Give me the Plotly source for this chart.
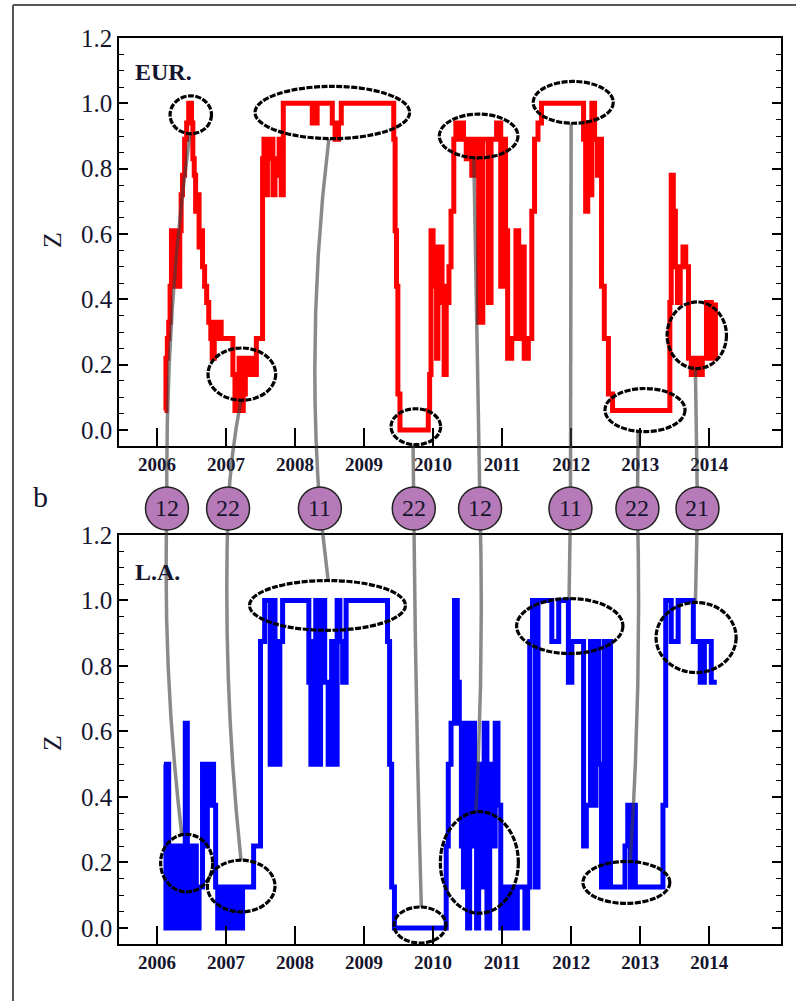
import math
import plotly.graph_objects as go

# ---------------- data ----------------
eur_t = [2006.11, 2006.13, 2006.15, 2006.17, 2006.19, 2006.21, 2006.28, 2006.33, 2006.35, 2006.37,
         2006.40, 2006.43, 2006.46, 2006.50, 2006.52, 2006.54, 2006.56, 2006.59, 2006.61, 2006.64,
         2006.66, 2006.69, 2006.72, 2006.75, 2006.78, 2006.80, 2006.83, 2006.86, 2006.90, 2006.93,
         2007.10, 2007.13, 2007.16, 2007.19, 2007.22, 2007.25, 2007.28, 2007.32, 2007.36, 2007.40,
         2007.44, 2007.53, 2007.55, 2007.57, 2007.60, 2007.63, 2007.66, 2007.68, 2007.71, 2007.74,
         2007.77, 2007.80, 2007.83, 2008.25, 2008.32, 2008.54, 2008.58, 2008.63, 2008.67, 2009.43,
         2009.45, 2009.47, 2009.49, 2009.52, 2009.93, 2009.95, 2009.97, 2010.00, 2010.03, 2010.05,
         2010.07, 2010.10, 2010.13, 2010.16, 2010.19, 2010.23, 2010.26, 2010.30, 2010.33, 2010.37,
         2010.41, 2010.44, 2010.48, 2010.52, 2010.56, 2010.60, 2010.66, 2010.72, 2010.80, 2010.84,
         2010.92, 2010.98, 2011.01, 2011.05, 2011.08, 2011.14, 2011.20, 2011.24, 2011.28, 2011.32,
         2011.38, 2011.43, 2011.47, 2011.52, 2011.57, 2012.18, 2012.21, 2012.24, 2012.27, 2012.30,
         2012.34, 2012.38, 2012.41, 2012.44, 2012.48, 2012.54, 2012.60, 2013.43, 2013.45, 2013.48,
         2013.51, 2013.54, 2013.58, 2013.62, 2013.66, 2013.70, 2013.74, 2013.80, 2013.84, 2013.90,
         2013.96, 2014.03, 2014.09]
eur_z = [0.06, 0.22, 0.28, 0.33, 0.44, 0.61, 0.44, 0.61, 0.72, 0.78,
         0.89, 0.94, 1.00, 0.94, 0.83, 0.78, 0.67, 0.72, 0.56, 0.61,
         0.50, 0.44, 0.39, 0.33, 0.28, 0.22, 0.33, 0.28, 0.33, 0.28,
         0.17, 0.06, 0.17, 0.22, 0.06, 0.11, 0.22, 0.17, 0.22, 0.17,
         0.28, 0.83, 0.89, 0.72, 0.89, 0.83, 0.89, 0.72, 0.83, 0.78,
         0.89, 0.72, 1.00, 0.94, 1.00, 0.94, 0.89, 0.94, 1.00, 0.89,
         0.61, 0.44, 0.11, 0.00, 0.06, 0.17, 0.61, 0.56, 0.44, 0.22,
         0.39, 0.56, 0.44, 0.17, 0.39, 0.50, 0.67, 0.89, 0.94, 0.89,
         0.94, 0.89, 0.83, 0.89, 0.78, 0.89, 0.33, 0.89, 0.39, 0.89,
         0.94, 0.44, 0.89, 0.61, 0.22, 0.28, 0.61, 0.28, 0.56, 0.22,
         0.28, 0.67, 0.89, 0.94, 1.00, 0.89, 0.67, 0.94, 0.72, 1.00,
         0.89, 0.78, 0.89, 0.44, 0.28, 0.11, 0.06, 0.39, 0.78, 0.67,
         0.50, 0.39, 0.50, 0.56, 0.50, 0.22, 0.17, 0.22, 0.17, 0.22,
         0.39, 0.22, 0.39]

la_t = [2006.10, 2006.13, 2006.15, 2006.17, 2006.21, 2006.25, 2006.29, 2006.33, 2006.37, 2006.41,
        2006.44, 2006.47, 2006.50, 2006.53, 2006.57, 2006.61, 2006.66, 2006.70, 2006.73, 2006.76,
        2006.79, 2006.82, 2006.85, 2006.88, 2006.92, 2006.96, 2007.00, 2007.04, 2007.08, 2007.12,
        2007.16, 2007.20, 2007.24, 2007.40, 2007.50, 2007.56, 2007.64, 2007.68, 2007.71, 2007.75,
        2007.78, 2007.82, 2008.20, 2008.23, 2008.27, 2008.30, 2008.33, 2008.37, 2008.43, 2008.48,
        2008.53, 2008.57, 2008.61, 2008.65, 2008.69, 2008.74, 2009.34, 2009.37, 2009.40, 2009.44,
        2010.19, 2010.22, 2010.26, 2010.31, 2010.35, 2010.38, 2010.41, 2010.44, 2010.47, 2010.50,
        2010.53, 2010.56, 2010.60, 2010.63, 2010.66, 2010.70, 2010.74, 2010.78, 2010.82, 2010.86,
        2010.90, 2010.94, 2010.98, 2011.04, 2011.08, 2011.12, 2011.18, 2011.22, 2011.33, 2011.37,
        2011.40, 2011.44, 2011.48, 2011.52, 2011.72, 2011.82, 2011.96, 2012.01, 2012.18, 2012.22,
        2012.28, 2012.32, 2012.36, 2012.40, 2012.44, 2012.48, 2012.50, 2012.54, 2012.57, 2012.78,
        2012.82, 2012.86, 2012.89, 2012.93, 2013.33, 2013.37, 2013.45, 2013.55, 2013.77, 2013.87,
        2013.93, 2014.03, 2014.11]
la_z = [0.50, 0.00, 0.50, 0.00, 0.25, 0.00, 0.25, 0.00, 0.25, 0.625,
        0.00, 0.25, 0.00, 0.25, 0.00, 0.125, 0.50, 0.25, 0.50, 0.375,
        0.50, 0.375, 0.125, 0.00, 0.125, 0.00, 0.125, 0.00, 0.125, 0.00,
        0.125, 0.00, 0.125, 0.25, 0.875, 1.00, 0.50, 1.00, 0.875, 0.50,
        0.875, 1.00, 0.75, 0.50, 0.875, 1.00, 0.50, 1.00, 0.75, 0.50,
        0.875, 0.50, 1.00, 0.875, 0.75, 1.00, 0.875, 0.50, 0.125, 0.00,
        0.25, 0.50, 0.625, 1.00, 0.75, 0.625, 0.25, 0.125, 0.625, 0.00,
        0.375, 0.625, 0.25, 0.00, 0.50, 0.125, 0.625, 0.00, 0.50, 0.25,
        0.625, 0.375, 0.00, 0.125, 0.00, 0.125, 0.00, 0.125, 0.00, 0.125,
        0.875, 1.00, 0.125, 1.00, 0.875, 1.00, 0.75, 0.875, 0.25, 0.375,
        0.875, 0.375, 0.875, 0.50, 0.125, 0.875, 0.125, 0.875, 0.125, 0.25,
        0.375, 0.125, 0.375, 0.125, 0.375, 1.00, 0.875, 1.00, 0.875, 0.75,
        0.875, 0.75, 0.75]

years = [2006, 2007, 2008, 2009, 2010, 2011, 2012, 2013, 2014]

# highlighted regions: (centre year, centre z, half-width years, half-height z)
eur_ellipses = [(2006.49, 0.965, 0.30, 0.058), (2007.23, 0.171, 0.49, 0.080),
                (2008.54, 0.972, 1.12, 0.080), (2009.75, 0.010, 0.36, 0.055),
                (2010.66, 0.900, 0.57, 0.067), (2012.03, 1.003, 0.58, 0.064),
                (2013.07, 0.061, 0.58, 0.066), (2013.82, 0.290, 0.43, 0.102)]
la_ellipses = [(2006.43, 0.198, 0.377, 0.088), (2007.22, 0.128, 0.49, 0.079),
               (2008.47, 0.985, 1.13, 0.076), (2009.81, 0.009, 0.377, 0.055),
               (2010.67, 0.200, 0.565, 0.155), (2011.98, 0.922, 0.77, 0.084),
               (2012.80, 0.139, 0.63, 0.064), (2013.81, 0.887, 0.58, 0.107)]

badge_years = [2006.145, 2007.03, 2008.36, 2009.72, 2010.68, 2011.99, 2012.96, 2013.83]
badge_labels = ["12", "22", "11", "22", "12", "11", "22", "21"]
# where each connector meets its ellipse (year) and its bow in px
link_top_x = [2006.478, 2007.217, 2008.49, 2009.71, 2010.59, 2012.00, 2012.97, 2013.80]
link_bot_x = [2006.36, 2007.217, 2008.48, 2009.83, 2010.62, 2011.97, 2012.855, 2013.80]
bow_top = [-7, -2, -9, 0, 0, 0, 0, 0]
bow_bot = [-6, -6, 0, -1, 3, 0, 4, 0]

# ---------------- geometry ----------------
W, H = 796, 1001
X_RANGE = [2005.45, 2015.04]
Y_RANGE = [-0.049, 1.2]
X_DOM = [119 / W, 781 / W]
TOP_DOM = [1 - 446 / H, 1 - 38 / H]
BOT_DOM = [1 - 944 / H, 1 - 535 / H]
BADGE_Y = 1 - 508.5 / H
FONT = "Liberation Serif"
TXT = "#15152e"


def xp(year):
    return X_DOM[0] + (year - X_RANGE[0]) / (X_RANGE[1] - X_RANGE[0]) * (X_DOM[1] - X_DOM[0])


def yp(val, dom):
    return dom[0] + (val - Y_RANGE[0]) / (Y_RANGE[1] - Y_RANGE[0]) * (dom[1] - dom[0])


def edge(ell, x, upper):
    cx, cy, rx, ry = ell
    f = max(0.0, 1 - ((x - cx) / rx) ** 2)
    return cy + ry * math.sqrt(f) if upper else cy - ry * math.sqrt(f)


fig = go.Figure()
fig.add_trace(go.Scatter(x=eur_t, y=eur_z, mode="lines", line=dict(color="#ff0000", width=5, shape="hv"),
                         xaxis="x", yaxis="y", showlegend=False, hoverinfo="skip"))
fig.add_trace(go.Scatter(x=la_t, y=la_z, mode="lines", line=dict(color="#0000ff", width=5, shape="hv"),
                         xaxis="x2", yaxis="y2", showlegend=False, hoverinfo="skip"))

shapes = []
# outer frame
shapes.append(dict(type="line", xref="paper", yref="paper", x0=13 / W, x1=1.0, y0=1 - 5 / H, y1=1 - 5 / H,
                   line=dict(color="#555555", width=2)))
shapes.append(dict(type="line", xref="paper", yref="paper", x0=13 / W, x1=13 / W, y0=0, y1=1 - 5 / H,
                   line=dict(color="#555555", width=2)))

# connectors
for i, by in enumerate(badge_years):
    p0 = (xp(by), BADGE_Y)
    for tx, ells, dom, upper, bow in ((link_top_x[i], eur_ellipses, TOP_DOM, False, bow_top[i]),
                                      (link_bot_x[i], la_ellipses, BOT_DOM, True, bow_bot[i])):
        p2 = (xp(tx), yp(edge(ells[i], tx, upper), dom))
        mx = (p0[0] + p2[0]) / 2 + bow / W
        my = (p0[1] + p2[1]) / 2
        cx = 2 * mx - (p0[0] + p2[0]) / 2
        cy = 2 * my - (p0[1] + p2[1]) / 2
        shapes.append(dict(type="path", xref="paper", yref="paper",
                           path=f"M {p0[0]:.5f},{p0[1]:.5f} Q {cx:.5f},{cy:.5f} {p2[0]:.5f},{p2[1]:.5f}",
                           line=dict(color="rgba(60,60,60,0.6)", width=3.5)))

# ellipses
for ells, xr, yr in ((eur_ellipses, "x", "y"), (la_ellipses, "x2", "y2")):
    for cx, cy, rx, ry in ells:
        shapes.append(dict(type="circle", xref=xr, yref=yr, x0=cx - rx, x1=cx + rx, y0=cy - ry, y1=cy + ry,
                           line=dict(color="black", width=3.2, dash="6px,1.5px")))

# badges
for by in badge_years:
    shapes.append(dict(type="circle", xref="x", yref="paper", xsizemode="pixel", ysizemode="pixel",
                       xanchor=by, yanchor=BADGE_Y, x0=-21.5, x1=21.5, y0=-21.5, y1=21.5,
                       fillcolor="#b77ab9", line=dict(color="#222222", width=1.5)))

annotations = []
for by, lab in zip(badge_years, badge_labels):
    annotations.append(dict(x=by, y=BADGE_Y, xref="x", yref="paper", text=lab, showarrow=False,
                            font=dict(family=FONT, size=24, color=TXT), xanchor="center", yanchor="middle"))
annotations += [
    dict(x=133 / W, y=1 - 72 / H, xref="paper", yref="paper", text="EUR.", showarrow=False,
         xanchor="left", yanchor="middle", font=dict(family=FONT, size=24, color=TXT, weight="bold")),
    dict(x=133 / W, y=1 - 572 / H, xref="paper", yref="paper", text="L.A.", showarrow=False,
         xanchor="left", yanchor="middle", font=dict(family=FONT, size=24, color=TXT, weight="bold")),
    dict(x=52 / W, y=1 - 240 / H, xref="paper", yref="paper", text="Z", showarrow=False, textangle=-90,
         xanchor="center", yanchor="middle", font=dict(family=FONT, size=26, color=TXT)),
    dict(x=52 / W, y=1 - 743 / H, xref="paper", yref="paper", text="Z", showarrow=False, textangle=-90,
         xanchor="center", yanchor="middle", font=dict(family=FONT, size=26, color=TXT)),
    dict(x=40 / W, y=1 - 497 / H, xref="paper", yref="paper", text="b", showarrow=False,
         xanchor="center", yanchor="middle", font=dict(family=FONT, size=30, color=TXT)),
]


def xaxis_cfg(dom_anchor):
    return dict(domain=X_DOM, range=X_RANGE, anchor=dom_anchor, tickvals=years, ticktext=[str(y) for y in years],
                ticks="inside", ticklen=18, tickwidth=1.5, tickcolor="black", showline=True, mirror=True,
                linecolor="black", linewidth=1.5, showgrid=False, zeroline=False, automargin=False,
                tickfont=dict(family=FONT, size=19, color=TXT, weight="bold"))


def yaxis_cfg(dom, anchor):
    return dict(domain=dom, range=Y_RANGE, anchor=anchor, tick0=0, dtick=0.2, tickformat=".1f",
                ticks="inside", ticklen=9, tickwidth=1.5, tickcolor="black", showline=True, mirror="ticks",
                linecolor="black", linewidth=1.5, showgrid=False, zeroline=False, automargin=False,
                minor=dict(dtick=0.05, tick0=0, ticks="inside", ticklen=5, tickwidth=1.2, tickcolor="black"),
                tickfont=dict(family=FONT, size=25, color=TXT))


fig.update_layout(
    template="none",
    width=W, height=H, margin=dict(l=0, r=0, t=0, b=0, pad=0), autosize=False,
    paper_bgcolor="white", plot_bgcolor="white",
    xaxis=xaxis_cfg("y"), yaxis=yaxis_cfg(TOP_DOM, "x"),
    xaxis2=xaxis_cfg("y2"), yaxis2=yaxis_cfg(BOT_DOM, "x2"),
    shapes=shapes, annotations=annotations, showlegend=False,
)

fig.write_html("out.html", config={"displayModeBar": False},
               post_script="document.body.style.margin='0';document.body.style.padding='0';"
                           "document.documentElement.style.overflow='hidden';")
